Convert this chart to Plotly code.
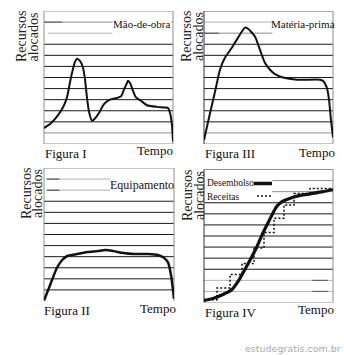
import plotly.graph_objects as go

# ---------------- data ----------------
# Figura I - Mão-de-obra
mao_x = [0, 4.7, 10.9, 15.5, 17.8, 20.2, 21.7, 24, 25.6, 27.9, 30.2, 31.8, 33.3, 34.9, 37.2, 39.5,
         42.6, 46.5, 51.2, 56.6, 59.7, 62, 64.3, 65.1, 66.7, 69, 71.3, 75.2, 79.8, 87.6, 93.8, 96.1,
         97.7, 99.2, 100]
mao_y = [1.44, 1.8, 2.6, 3.5, 4.2, 5.6, 6.4, 7.4, 7.7, 7.5, 6.9, 5.8, 4.2, 2.9, 2.1, 2.3,
         2.8, 3.6, 4.0, 4.15, 4.3, 4.9, 5.5, 5.7, 5.5, 4.8, 4.2, 3.9, 3.5, 3.35, 3.3, 3.25,
         2.8, 1.7, 0.2]

# Figura III - Matéria-prima
mat_x = [0, 4.7, 8.5, 12.4, 16.3, 21.7, 26.4, 31.8, 34.1, 39.5, 43.4, 47.3, 51.2, 55, 61.2,
         72.1, 89.9, 92.2, 95.3, 96.9, 98.4, 100]
mat_y = [0.36, 2.8, 4.7, 6.7, 7.8, 8.7, 9.6, 10.5, 10.4, 9.7, 8.5, 7.3, 6.7, 6.3, 6.0,
         5.8, 5.8, 5.7, 5.05, 4.0, 2.2, 0.6]

# Figura II - Equipamento
eq_x = [0, 4.7, 10, 14, 17.8, 25.6, 33.3, 41.1, 47.3, 53.5, 61.2, 69, 79.8, 87.6, 92.2, 95.3, 97.7, 100]
eq_y = [0.05, 1.45, 3.0, 3.7, 4.06, 4.24, 4.42, 4.5, 4.6, 4.5, 4.33, 4.24, 4.24, 4.15, 3.9, 3.5, 2.35, 0.2]

# Figura IV - Desembolso / Receitas
des_x = [0, 7, 14.7, 21.7, 26.4, 31.8, 37.2, 41.1, 45, 48.8, 52.7, 56.6, 60.5, 64.3, 72.1, 82.2, 92.2, 100]
des_y = [0.18, 0.36, 0.72, 1.17, 1.9, 3.0, 4.15, 5.05, 6.1, 7.0, 7.9, 8.7, 9.1, 9.3, 9.6, 9.8, 10.0, 10.2]
rec_x = [0, 10.1, 20.2, 29.5, 38.8, 46.5, 54.3, 62, 69.8, 82.2, 99.2]
rec_y = [0.25, 1.31, 2.53, 3.52, 4.92, 6.32, 7.61, 8.8, 9.84, 10.29, 10.29]

grid_levels = list(range(0, 13))

# ---------------- layout helpers ----------------
W, H = 344, 355
def fx(px): return px / W
def fy(py): return 1 - py / H

boxes = {1: (44, 173, 11, 144), 2: (204, 333, 11, 144),
         3: (44, 174, 168, 301), 4: (204, 333, 169.5, 302.5)}

fig = go.Figure()
layout = dict(width=W, height=H, margin=dict(l=0, r=0, t=0, b=0), autosize=False,
              paper_bgcolor='white', plot_bgcolor='white', showlegend=False)
for i, (l, r, t, b) in boxes.items():
    s = '' if i == 1 else str(i)
    layout['xaxis' + s] = dict(domain=[fx(l), fx(r)], range=[0, 100], visible=False, fixedrange=True)
    layout['yaxis' + s] = dict(domain=[fy(b), fy(t)], range=[0, 12], visible=False, fixedrange=True)
fig.update_layout(**layout)

INK = '#111'
def ax(i):
    s = '' if i == 1 else str(i)
    return 'x' + s, 'y' + s

def add_curve(i, x, y, width, shape='spline', dash='solid'):
    xa, ya = ax(i)
    line = dict(color=INK, width=width, shape=shape, dash=dash)
    if shape == 'spline':
        line['smoothing'] = 0.6
    fig.add_trace(go.Scatter(x=x, y=y, mode='lines', line=line, xaxis=xa, yaxis=ya,
                             hoverinfo='skip'))

add_curve(1, mao_x, mao_y, 2)
add_curve(2, mat_x, mat_y, 2)
add_curve(3, eq_x, eq_y, 2.5)
add_curve(4, rec_x, rec_y, 1.5, shape='hv', dash='2px,2px')
add_curve(4, des_x, des_y, 3.2)

# ---------------- gridlines (style per panel) ----------------
BLK, G1, G2, G3 = '#1a1a1a', '#555', '#8c8c8c', '#b0b0b0'
grid_style = {
    1: {12: [(0, 1, G2)], 11: [(0, 0.14, BLK), (0.14, 0.53, G2), (0.985, 1, G2)],
        10: [(0.03, 0.53, G3)], 1: [(0, 1, G2)], 0: [(0, 1, G2)]},
    2: {12: [(0, 1, G1)], 11: [(0, 0.53, G3), (0.99, 1, G2)],
        10: [(0, 0.12, BLK), (0.12, 0.53, G2)], 1: [(0, 1, G2)], 0: [(0, 1, G2)]},
    3: {12: [(0, 1, G2)], 11: [(0.02, 0.12, BLK), (0.12, 0.51, G3)],
        10: [(0.02, 0.12, BLK), (0.12, 0.51, G3)], 0: []},
    4: {12: [(0, 1, '#222')], 11: [(0.53, 1, G2)], 10: [(0.53, 1, G2)],
        2: [(0, 1, G3), (0.84, 0.96, G1)], 1: [(0, 1, G3), (0.84, 0.96, G1)], 0: [(0, 1, G2)]},
}
border_style = {1: (G2, G2), 2: ('#333', G2), 3: (G2, G2), 4: ('#333', G2)}

shapes = []
for i in boxes:
    xa, ya = ax(i)
    for lv in grid_levels:
        segs = grid_style[i].get(lv, [(0, 1, BLK)])
        for x0, x1, c in segs:
            shapes.append(dict(type='line', xref=xa + ' domain', yref=ya, x0=x0, x1=x1, y0=lv, y1=lv,
                               line=dict(color=c, width=1), layer='below'))
    lc, rc = border_style[i]
    for xd, c in ((0, lc), (1, rc)):
        shapes.append(dict(type='line', xref=xa + ' domain', yref=ya + ' domain', x0=xd, x1=xd,
                           y0=0, y1=1, line=dict(color=c, width=1), layer='below'))

# legend glyphs in Figura IV
shapes.append(dict(type='line', xref='paper', yref='paper', x0=fx(254), x1=fx(272),
                   y0=fy(183.5), y1=fy(183.5), line=dict(color=INK, width=3.5)))
shapes.append(dict(type='line', xref='paper', yref='paper', x0=fx(257), x1=fx(271),
                   y0=fy(196), y1=fy(196), line=dict(color=INK, width=1.5, dash='2px,2px')))
fig.update_layout(shapes=shapes)

# ---------------- texts ----------------
SERIF = 'Liberation Serif, Times New Roman, Times, serif'
ann = []
def text(t, x, y, size, xanchor='center', angle=0, color=INK, family=SERIF, bg=None):
    d = dict(text=t, x=fx(x), y=fy(y), xref='paper', yref='paper', showarrow=False,
             xanchor=xanchor, yanchor='middle', textangle=angle,
             font=dict(family=family, size=size, color=color), borderpad=0)
    if bg:
        d['bgcolor'] = bg
    ann.append(d)

# y-axis titles
for (xr, xa_, yc) in ((22, 33.5, 37), (187, 199, 37), (26, 37, 194), (187, 199, 196)):
    text('Recursos', xr, yc, 14, angle=-90, color='#222')
    text('alocados', xa_, yc, 14, angle=-90, color='#222')

# captions
text('Figura I', 43.5, 153, 13, xanchor='left')
text('Tempo', 174, 150, 13, xanchor='right')
text('Figura III', 203.5, 153, 13, xanchor='left')
text('Tempo', 336, 152, 13, xanchor='right')
text('Figura II', 43, 310, 13, xanchor='left')
text('Tempo', 177, 308, 13, xanchor='right')
text('Figura IV', 203.5, 312, 13, xanchor='left')
text('Tempo', 335, 309, 13, xanchor='right')

# series labels
text('Mão-de-obra', 142, 24, 11)
text('Matéria-prima', 302.5, 24, 11)
text('Equipamento', 142, 185, 12)
text('Desembolso', 206.5, 183, 9.5, xanchor='left')
text('Receitas', 206.5, 197, 9.5, xanchor='left')

# watermark
text('estudegratis.com.br', 342, 348, 9.5, xanchor='right', color='#aaaaaa', family='DejaVu Sans')

fig.update_layout(annotations=ann)
fig.write_html('out.html')
